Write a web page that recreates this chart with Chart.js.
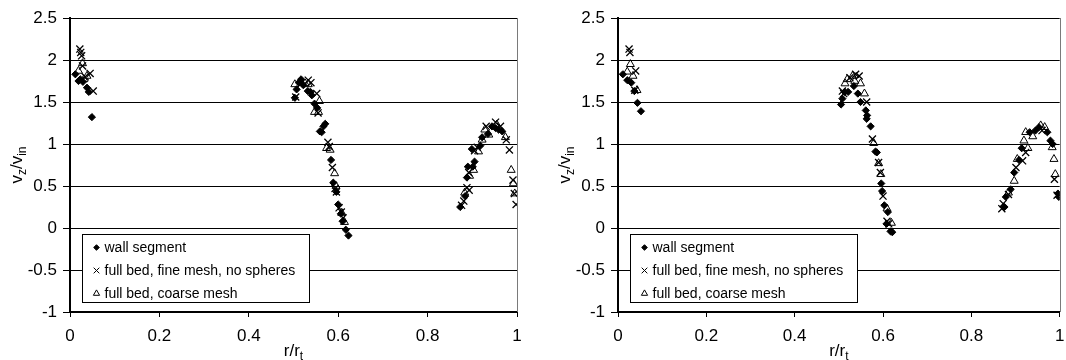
<!DOCTYPE html>
<html>
<head>
<meta charset="utf-8">
<script src="https://cdn.jsdelivr.net/npm/chart.js@4.4.1/dist/chart.umd.min.js"></script>
<style>
  body { margin: 0; background: #fff; }
  #wrap { position: relative; width: 1066px; height: 360px; overflow: hidden; }
  canvas { position: absolute; top: 0; }
</style>
</head>
<body>
<div id="wrap">
  <canvas id="left" width="533" height="360" style="left:0"></canvas>
  <canvas id="right" width="533" height="360" style="left:533px"></canvas>
</div>
<script>
// axis ticks
const xTicks = [0, 0.2, 0.4, 0.6, 0.8, 1]
const yTicks = [-1, -0.5, 0, 0.5, 1, 1.5, 2, 2.5]
const seriesNames = ['wall segment', 'full bed, fine mesh, no spheres', 'full bed, coarse mesh']

// left panel
const leftWallX = [0.012, 0.019, 0.023, 0.029, 0.038, 0.042, 0.049,
    0.503, 0.507, 0.512, 0.517, 0.522, 0.532, 0.538, 0.541, 0.547, 0.553, 0.559, 0.563, 0.567, 0.571, 0.584, 0.589, 0.596, 0.600, 0.606, 0.610, 0.617, 0.623,
    0.873, 0.884, 0.888, 0.890, 0.899, 0.901, 0.905, 0.918, 0.922, 0.935, 0.944, 0.952, 0.959, 0.967]
const leftWallY = [1.83, 1.75, 1.77, 1.74, 1.67, 1.62, 1.32,
    1.55, 1.65, 1.73, 1.77, 1.70, 1.63, 1.62, 1.58, 1.48, 1.43, 1.15, 1.14, 1.21, 1.24, 0.81, 0.54, 0.43, 0.28, 0.17, 0.08, -0.02, -0.09,
    0.25, 0.38, 0.60, 0.73, 0.94, 0.73, 0.79, 0.98, 1.08, 1.12, 1.21, 1.19, 1.17, 1.15]
const leftFineX = [0.022, 0.024, 0.026, 0.028, 0.034, 0.045, 0.052,
    0.505, 0.515, 0.533, 0.539, 0.552, 0.555, 0.577, 0.580, 0.587, 0.593, 0.596, 0.602, 0.607, 0.611,
    0.876, 0.881, 0.888, 0.893, 0.892, 0.905, 0.911, 0.931, 0.952, 0.963, 0.976, 0.983, 0.991, 0.994, 0.998]
const leftFineY = [2.13, 2.09, 2.05, 1.93, 1.80, 1.84, 1.63,
    1.56, 1.71, 1.76, 1.73, 1.60, 1.37, 1.02, 0.97, 0.72, 0.47, 0.43, 0.24, 0.19, 0.12,
    0.27, 0.32, 0.48, 0.45, 0.66, 0.92, 0.96, 1.21, 1.26, 1.21, 1.05, 0.93, 0.57, 0.41, 0.28]
const leftCoarseX = [0.019, 0.028, 0.031, 0.038,
    0.503, 0.526, 0.533, 0.558, 0.547, 0.556, 0.574, 0.582, 0.592, 0.595, 0.608, 0.614,
    0.883, 0.894, 0.903, 0.914, 0.922, 0.928, 0.937, 0.955, 0.974, 0.987, 0.992, 0.995]
const leftCoarseY = [1.87, 1.96, 1.77, 1.81,
    1.71, 1.72, 1.71, 1.51, 1.38, 1.38, 0.95, 0.93, 0.65, 0.50, 0.18, 0.07,
    0.42, 0.62, 0.69, 0.91, 1.05, 1.17, 1.11, 1.23, 1.08, 0.69, 0.53, 0.41]

// right panel
const rightWallX = [0.011, 0.021, 0.030, 0.037, 0.044, 0.052,
    0.505, 0.508, 0.513, 0.521, 0.534, 0.543, 0.549, 0.561, 0.563, 0.564, 0.572, 0.583, 0.586, 0.596, 0.598, 0.603, 0.611, 0.608, 0.617, 0.621,
    0.875, 0.878, 0.889, 0.897, 0.908, 0.914, 0.932, 0.945, 0.953, 0.972, 0.979, 0.984, 0.996, 0.998]
const rightWallY = [1.83, 1.76, 1.73, 1.63, 1.49, 1.39,
    1.47, 1.54, 1.62, 1.62, 1.69, 1.60, 1.50, 1.40, 1.30, 1.34, 1.21, 0.91, 0.90, 0.53, 0.44, 0.27, 0.19, 0.05, -0.04, -0.05,
    0.25, 0.37, 0.46, 0.66, 0.81, 0.95, 1.14, 1.16, 1.20, 1.14, 1.04, 1.00, 0.41, 0.37]
const rightFineX = [0.025, 0.027, 0.040, 0.038,
    0.508, 0.511, 0.525, 0.538, 0.546, 0.563, 0.576, 0.590, 0.594, 0.600, 0.609, 0.613,
    0.869, 0.872, 0.884, 0.901, 0.916, 0.923, 0.960, 0.988, 0.994]
const rightFineY = [2.13, 2.09, 1.87, 1.64,
    1.63, 1.60, 1.79, 1.83, 1.81, 1.50, 1.06, 0.78, 0.66, 0.38, 0.08, 0.05,
    0.23, 0.29, 0.40, 0.72, 0.80, 0.90, 1.16, 0.58, 0.39]
const rightCoarseX = [0.021, 0.028, 0.034, 0.043,
    0.514, 0.519, 0.531, 0.536, 0.549, 0.558, 0.579, 0.590, 0.595, 0.609, 0.619,
    0.884, 0.897, 0.904, 0.919, 0.923, 0.928, 0.939, 0.957, 0.966, 0.983, 0.987, 0.990]
const rightCoarseY = [1.86, 1.95, 1.81, 1.64,
    1.72, 1.77, 1.81, 1.75, 1.72, 1.60, 1.01, 0.77, 0.64, 0.23, 0.06,
    0.42, 0.56, 0.82, 1.04, 1.14, 0.95, 1.09, 1.22, 1.20, 0.96, 0.82, 0.64]

const FONT = "'Liberation Sans', Arial, sans-serif"

function pts(xs, ys) {
    let out = []
    for (let i = 0; i < xs.length; i++) {
        out.push({x: xs[i], y: ys[i]})
    }
    return out
}

function makeDatasets(wx, wy, fx, fy, cx, cy) {
    return [
        {label: seriesNames[0], data: pts(wx, wy), pointStyle: 'rectRot', pointRadius: 3.6,
         backgroundColor: '#000', borderColor: '#000', borderWidth: 1},
        {label: seriesNames[1], data: pts(fx, fy), pointStyle: 'crossRot', pointRadius: 5,
         backgroundColor: '#000', borderColor: '#000', borderWidth: 1.3},
        {label: seriesNames[2], data: pts(cx, cy), pointStyle: 'triangle', pointRadius: 4.6,
         backgroundColor: 'rgba(255,255,255,0)', borderColor: '#000', borderWidth: 1}
    ]
}

// draws right border, legend box and the axis titles with subscripts
const decor = {
    id: 'decor',
    afterDatasetsDraw(chart) {
        const ctx = chart.ctx
        const a = chart.chartArea
        ctx.save()
        ctx.strokeStyle = '#7a7a7a'
        ctx.lineWidth = 1
        ctx.beginPath()
        ctx.moveTo(Math.round(a.right) + 0.5, a.top)
        ctx.lineTo(Math.round(a.right) + 0.5, a.bottom)
        ctx.stroke()

        // legend
        const lx = Math.round(a.left + 12) + 0.5
        const ly = Math.round(a.top + 216) + 0.5
        const lw = 227, lh = 68
        ctx.fillStyle = '#fff'
        ctx.fillRect(lx, ly, lw, lh)
        ctx.strokeStyle = '#000'
        ctx.strokeRect(lx, ly, lw, lh)
        const sizes = [2.8, 4, 3.6]
        ctx.font = '14px ' + FONT
        ctx.textBaseline = 'middle'
        ctx.textAlign = 'left'
        chart.data.datasets.forEach((ds, i) => {
            const yy = ly + 13 + i * 23
            ctx.fillStyle = ds.backgroundColor
            ctx.strokeStyle = ds.borderColor
            ctx.lineWidth = 1
            Chart.helpers.drawPoint(ctx, {pointStyle: ds.pointStyle, radius: sizes[i], borderWidth: 1}, lx + 14, yy)
            ctx.fillStyle = '#000'
            ctx.fillText(ds.label, lx + 22, yy + 1)
        })

        // x title r/r_t
        ctx.fillStyle = '#000'
        ctx.textBaseline = 'alphabetic'
        ctx.font = '17px ' + FONT
        const main = 'r/r'
        const mw = ctx.measureText(main).width
        ctx.font = '12px ' + FONT
        const sw = ctx.measureText('t').width
        let x0 = (a.left + a.right) / 2 - (mw + sw) / 2
        ctx.font = '17px ' + FONT
        ctx.fillText(main, x0, 356)
        ctx.font = '12px ' + FONT
        ctx.fillText('t', x0 + mw, 360)

        // y title v_z/v_in
        ctx.translate(a.left - 48.5, (a.top + a.bottom) / 2)
        ctx.rotate(-Math.PI / 2)
        const parts = [['v', 17, 0], ['z', 12, 4], ['/v', 17, 0], ['in', 12, 4]]
        let total = 0
        parts.forEach(p => { ctx.font = p[1] + 'px ' + FONT; total += ctx.measureText(p[0]).width })
        let px = -total / 2
        parts.forEach(p => {
            ctx.font = p[1] + 'px ' + FONT
            ctx.fillText(p[0], px, p[2])
            px += ctx.measureText(p[0]).width
        })
        ctx.restore()
    }
}

function makeChart(id, datasets, yWidth, padRight) {
    return new Chart(document.getElementById(id), {
        type: 'scatter',
        data: {datasets: datasets},
        plugins: [decor],
        options: {
            responsive: false,
            animation: false,
            layout: {padding: {top: 18, right: padRight, left: 0, bottom: 0}},
            plugins: {legend: {display: false}, tooltip: {enabled: false}},
            scales: {
                x: {
                    type: 'linear', min: 0, max: 1,
                    afterBuildTicks: s => { s.ticks = xTicks.map(v => ({value: v})) },
                    afterFit: s => { s.height = 48; s.paddingLeft = 0; s.paddingRight = 0 },
                    grid: {drawOnChartArea: false, drawTicks: true, tickLength: 5, color: '#000', lineWidth: 1},
                    border: {display: true, color: '#000', width: 2},
                    ticks: {color: '#000', padding: 9, maxRotation: 0, autoSkip: false,
                            font: {family: FONT, size: 17}, callback: v => String(v)}
                },
                y: {
                    type: 'linear', min: -1, max: 2.5,
                    afterBuildTicks: s => { s.ticks = yTicks.map(v => ({value: v})) },
                    afterFit: s => { s.width = yWidth; s.paddingTop = 0; s.paddingBottom = 0 },
                    grid: {drawOnChartArea: true, drawTicks: true, tickLength: 7, color: '#000', lineWidth: 1},
                    border: {display: true, color: '#000', width: 2},
                    ticks: {color: '#000', padding: 6, autoSkip: false,
                            font: {family: FONT, size: 17}, callback: v => String(v)}
                }
            }
        }
    })
}

makeChart('left', makeDatasets(leftWallX, leftWallY, leftFineX, leftFineY, leftCoarseX, leftCoarseY), 70, 16)
makeChart('right', makeDatasets(rightWallX, rightWallY, rightFineX, rightFineY, rightCoarseX, rightCoarseY), 85, 2)
</script>
</body>
</html>
